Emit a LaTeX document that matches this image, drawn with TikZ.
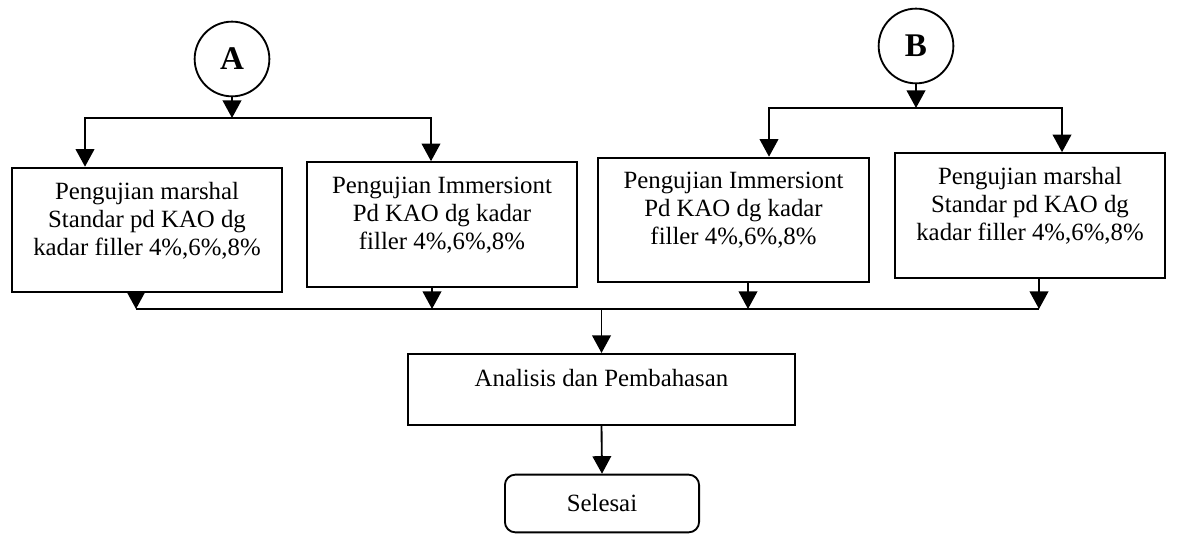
\documentclass[tikz,border=0pt]{standalone}
\usepackage{fontspec}
\setmainfont{Liberation Serif}
\usetikzlibrary{arrows.meta}

\begin{document}
\begin{tikzpicture}
  [x=0.017cm,y=-0.017cm,line width=0.9pt,>={Triangle[width=9pt,length=8.5pt]},
   block/.style={rectangle,draw=black,minimum width=4.6cm,minimum height=2.12cm,
     align=center,text depth=11pt,font=\fontsize{12}{13.5}\selectfont},
   term/.style={rectangle,draw=black,rounded corners=5pt,minimum width=3.3cm,
     minimum height=0.98cm,font=\fontsize{12}{13.5}\selectfont},
   joint/.style={circle,draw=black,minimum size=1.27cm,inner sep=0pt,
     font=\fontsize{16}{18}\selectfont\bfseries}]
\path (0,0) rectangle (1179,535); % adjust bounding box
\node at (232,59) (A) [joint] {A};
\node at (916,46) (B) [joint] {B};
\node at (147,230)  (m1) [block] {Pengujian marshal\\Standar pd KAO dg\\kadar filler 4\%,6\%,8\%};
\node at (442,224.5) (m2) [block] {Pengujian Immersiont\\Pd KAO dg kadar\\filler 4\%,6\%,8\%};
\node at (733.5,220) (m3) [block] {Pengujian Immersiont\\Pd KAO dg kadar\\filler 4\%,6\%,8\%};
\node at (1030,215.5) (m4) [block] {Pengujian marshal\\Standar pd KAO dg\\kadar filler 4\%,6\%,8\%};
\node at (601.5,389.5) (an) [block, minimum width=6.58cm, minimum height=1.21cm] {Analisis dan Pembahasan};
\node at (602,503.5) (sel) [term] {Selesai};
%
\coordinate (a1) at (85,118);
\coordinate (a2) at (431,118);
\coordinate (b1) at (769,108);
\coordinate (b2) at (1062,108);
\coordinate (j1) at (136,309);
\coordinate (j2) at (432,309);
\coordinate (j3) at (748,309);
\coordinate (j4) at (1039,309);
%
\draw [->] (A.south) -- (A.south |- a1);
\draw [<->] (a1 |- m1.north) -- (a1) -- (a2) -- (a2 |- m2.north);
\draw [->] (B.south) -- (B.south |- b1);
\draw [<->] (b1 |- m3.north) -- (b1) -- (b2) -- (b2 |- m4.north);
%
\draw [->] (j1 |- m1.south) -- (j1);
\draw [->] (j2 |- m2.south) -- (j2);
\draw [->] (j3 |- m3.south) -- (j3);
\draw [->] (j4 |- m4.south) -- (j4);
\draw (j1) -- (j4);
\draw [->] (an.north |- j1) -- (an.north);
\draw [->] (an.south) -- (sel.north);
\end{tikzpicture}
\end{document}
